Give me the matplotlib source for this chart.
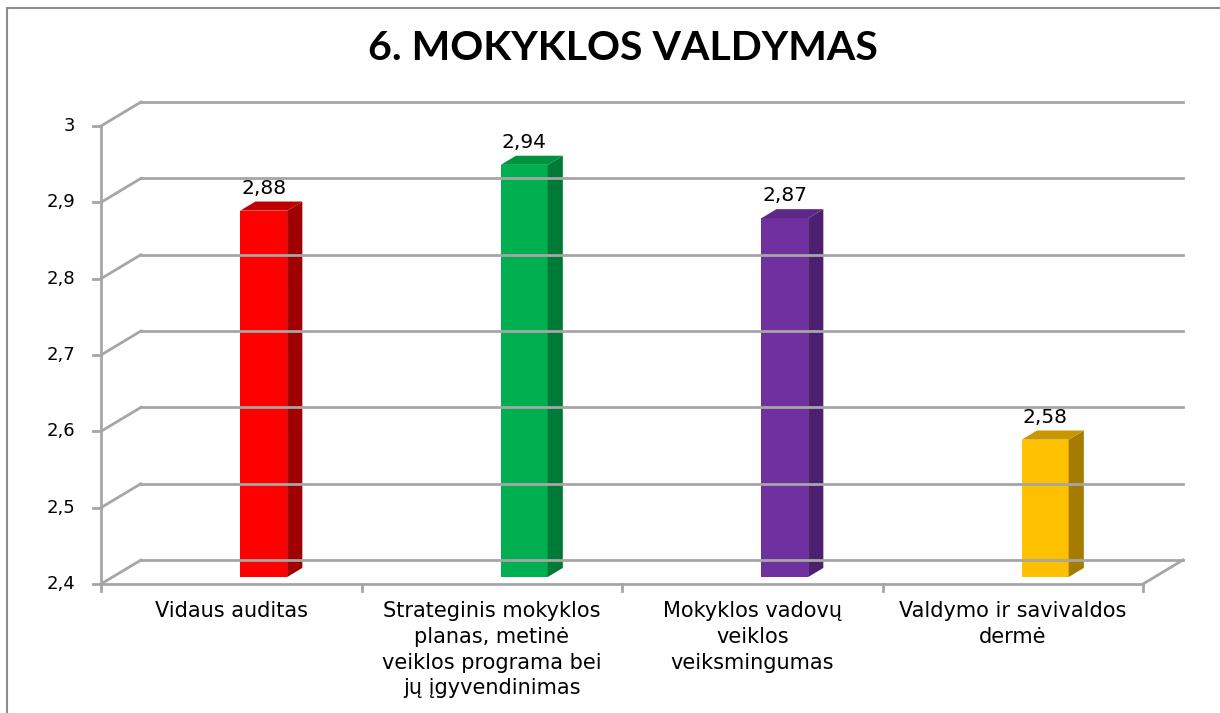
import matplotlib
matplotlib.use("Agg")
import matplotlib.pyplot as plt
from matplotlib.patches import Polygon
from matplotlib.lines import Line2D
from matplotlib.transforms import IdentityTransform

# ---- data ----
title = "6. MOKYKLOS VALDYMAS"
categories = [
    "Vidaus auditas",
    "Strateginis mokyklos\nplanas, metinė\nveiklos programa bei\njų įgyvendinimas",
    "Mokyklos vadovų\nveiklos\nveiksmingumas",
    "Valdymo ir savivaldos\ndermė",
]
values = [2.88, 2.94, 2.87, 2.58]
value_labels = ["2,88", "2,94", "2,87", "2,58"]
yticks = [2.4, 2.5, 2.6, 2.7, 2.8, 2.9, 3.0]
ytick_labels = ["2,4", "2,5", "2,6", "2,7", "2,8", "2,9", "3"]
front_colors = ["#FF0000", "#00B050", "#7030A0", "#FFC000"]
side_colors = ["#A00000", "#007A37", "#4D1F70", "#A67C00"]
top_colors = ["#C00000", "#00933F", "#5E2888", "#C99600"]

W, H = 1220, 713
fig = plt.figure(figsize=(W / 100, H / 100), dpi=100)
fig.patch.set_facecolor("white")

# front plane of the plot (pixels)
x0, x1 = 101, 1143
ytop, ybot = 126, 584
ax = fig.add_axes([x0 / W, (H - ybot) / H, (x1 - x0) / W, (ybot - ytop) / H])
ax.set_xlim(-0.5, len(categories) - 0.5)
ax.set_ylim(yticks[0], yticks[-1])
ax.axis("off")

DX, DY = 40, 24          # depth offset of back wall (pixels)
grid_col = "#A6A6A6"
ident = IdentityTransform()
FONT = "DejaVu Sans"

def px(x, y):
    X, Y = ax.transData.transform((x, y))
    return X, Y

def add_line(xs, ys, **kw):
    fig.add_artist(Line2D(xs, ys, transform=ident, **kw))

xl, xr = ax.get_xlim()
# back gridlines + left wall diagonals + y ticks
for v, lab in zip(yticks, ytick_labels):
    fx, fy = px(xl, v)
    bx, by = px(xr, v)
    add_line([fx + DX, bx + DX], [fy + DY, by + DY], color=grid_col, lw=2.0)
    add_line([fx, fx + DX], [fy, fy + DY], color=grid_col, lw=2.0)
    add_line([fx - 8, fx], [fy, fy], color=grid_col, lw=2.0)
    fig.text(fx - 26, fy, lab, transform=ident, ha="right", va="center",
             fontsize=13, family=FONT, color="#000000")

# y axis front line
fx, fyb = px(xl, yticks[0])
_, fyt = px(xl, yticks[-1])
add_line([fx, fx], [fyb, fyt], color=grid_col, lw=2.0)
# floor front edge and right edge
bxr, byr = px(xr, yticks[0])
add_line([fx, bxr], [fyb, byr], color=grid_col, lw=2.0)
add_line([bxr, bxr + DX], [byr, byr + DY], color=grid_col, lw=2.0)
# x tick marks at category boundaries
for b in range(len(categories) + 1):
    tx, ty = px(xl + b, yticks[0])
    add_line([tx, tx], [ty, ty - 7], color=grid_col, lw=2.0)

# bars
bw = 0.18
d0, d1 = 0.29, 0.67      # depth fraction occupied by bars
shift = 0.08             # bars sit slightly right of category centre
for i, (v, fc, sc, tc, vl) in enumerate(zip(values, front_colors, side_colors, top_colors, value_labels)):
    lx, by0 = px(i + shift - bw / 2, yticks[0])
    rx, ty0 = px(i + shift + bw / 2, v)
    ox, oy = DX * d0, DY * d0
    ex, ey = DX * (d1 - d0), DY * (d1 - d0)
    L, R, B, T = lx + ox, rx + ox, by0 + oy, ty0 + oy
    front = Polygon([(L, B), (R, B), (R, T), (L, T)], closed=True, transform=ident,
                    facecolor=fc, edgecolor="none")
    side = Polygon([(R, B), (R + ex, B + ey), (R + ex, T + ey), (R, T)], closed=True,
                   transform=ident, facecolor=sc, edgecolor="none")
    top = Polygon([(L, T), (R, T), (R + ex, T + ey), (L + ex, T + ey)], closed=True,
                  transform=ident, facecolor=tc, edgecolor="none")
    for p in (front, side, top):
        fig.add_artist(p)
    fig.text((L + R) / 2, T + ey + 4, vl, transform=ident, ha="center", va="bottom",
             fontsize=14.5, family=FONT, color="#000000")

# category labels
for i, c in enumerate(categories):
    cx, cy = px(i, yticks[0])
    fig.text(cx, cy - 17, c, transform=ident, ha="center", va="top", fontsize=15,
             family=FONT, linespacing=1.36, color="#000000")

# title
fig.text(0.511, 1 - 48 / H, title, ha="center", va="center", fontsize=29.5,
         family="Lato", fontweight="bold", color="#000000")

# outer border (left and top)
fig.add_artist(Line2D([7 / W, 7 / W], [0, 1 - 8 / H], transform=fig.transFigure, color="#8C8C8C", lw=1.5))
fig.add_artist(Line2D([7 / W, 1], [1 - 8 / H, 1 - 8 / H], transform=fig.transFigure, color="#8C8C8C", lw=1.5))

fig.savefig("out.png", dpi=100, facecolor="white")
